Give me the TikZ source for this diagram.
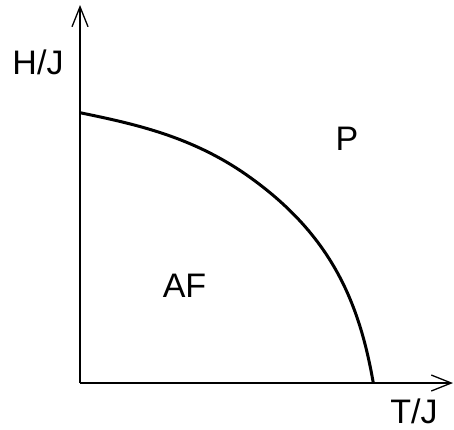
\documentclass[tikz,border=0pt]{standalone}
\usepackage{fontspec}
\setmainfont{Liberation Sans}
\usetikzlibrary{arrows.meta}
\begin{document}
\begin{tikzpicture}[x=1pt,y=-1pt,
  axis/.style={line width=1.3pt,-{Straight Barb[length=20pt,width=16pt,line width=1.3pt]}},
  lbl/.style={font=\fontsize{34}{40}\selectfont,inner sep=0pt,anchor=base},
  boundary/.style={line width=3pt}]
\useasboundingbox (0,0) rectangle (454,429);
\coordinate (O) at (80,383);
\coordinate (ytip) at (80,5);
\coordinate (xtip) at (453,383);
\draw[axis] (O) -- (ytip);
\draw[axis] (O) -- (xtip);
\node[lbl] (hj) at (38,74) {H/J};
\node[lbl] (tj) at (414,423) {T/J};
\node[lbl] (p) at (347,150.5) {P};
\node[lbl] (af) at (184.5,297) {AF};
\coordinate (c0) at (80,112.7);
\coordinate (c1) at (246.7,175);
\coordinate (c2) at (373.3,383);
\draw[boundary] (c0) .. controls (135,124) and (191.7,136.5) .. (c1)
  .. controls (331.7,234.5) and (359.3,303) .. (c2);
\end{tikzpicture}
\end{document}
